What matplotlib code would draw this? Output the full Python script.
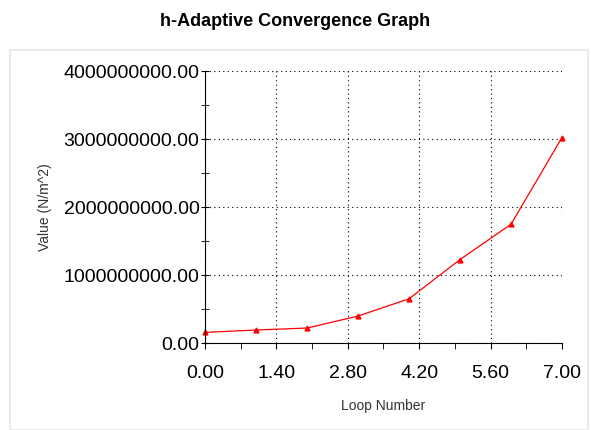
import matplotlib.pyplot as plt
from matplotlib.patches import Rectangle
from matplotlib.ticker import MultipleLocator, FormatStrFormatter

plt.rcParams['font.family'] = ['Liberation Sans', 'DejaVu Sans']

loops = [0, 1, 2, 3, 4, 5, 6, 7]
values = [0.156e9, 0.191e9, 0.220e9, 0.396e9, 0.650e9, 1.227e9, 1.746e9, 3.022e9]

fig = plt.figure(figsize=(5.91, 4.30), dpi=100)
ax = fig.add_axes([205/591, 1 - 343/430, 357/591, 272/430])

# light frame around the chart area
fig.patches.append(Rectangle((10/591, 0), 578/591, 1 - 50/430, transform=fig.transFigure,
                             fill=False, edgecolor='#e6e6e6', linewidth=1.2))

fig.text(0.5, 1 - 22/430, "h-Adaptive Convergence Graph", ha='center', va='center',
         fontsize=13, fontweight='bold')

ax.plot(loops, values, color='red', linewidth=0.9, marker='^', markersize=3.5, clip_on=False)

ax.set_xlim(0, 7)
ax.set_ylim(0, 4e9)
ax.xaxis.set_major_locator(MultipleLocator(1.4))
ax.xaxis.set_minor_locator(MultipleLocator(0.7))
ax.yaxis.set_major_locator(MultipleLocator(1e9))
ax.yaxis.set_minor_locator(MultipleLocator(0.5e9))
ax.xaxis.set_major_formatter(FormatStrFormatter('%.2f'))
ax.yaxis.set_major_formatter(FormatStrFormatter('%.2f'))

ax.tick_params(axis='both', which='both', labelsize=14, colors='black')
ax.tick_params(axis='y', which='both', direction='inout', length=6, pad=1)
ax.tick_params(axis='x', which='both', direction='out', length=4, pad=12)

ax.spines['top'].set_visible(False)
ax.spines['right'].set_visible(False)

ax.grid(True, which='major', linestyle=(0, (1, 3)), color='black', linewidth=0.8)
ax.set_axisbelow(True)

ax.set_xlabel("Loop Number", fontsize=10, color='#333333', labelpad=12)
ax.set_ylabel("Value (N/m^2)", fontsize=10, color='#333333', labelpad=8)

fig.savefig("out.png", dpi=100, facecolor='white')
